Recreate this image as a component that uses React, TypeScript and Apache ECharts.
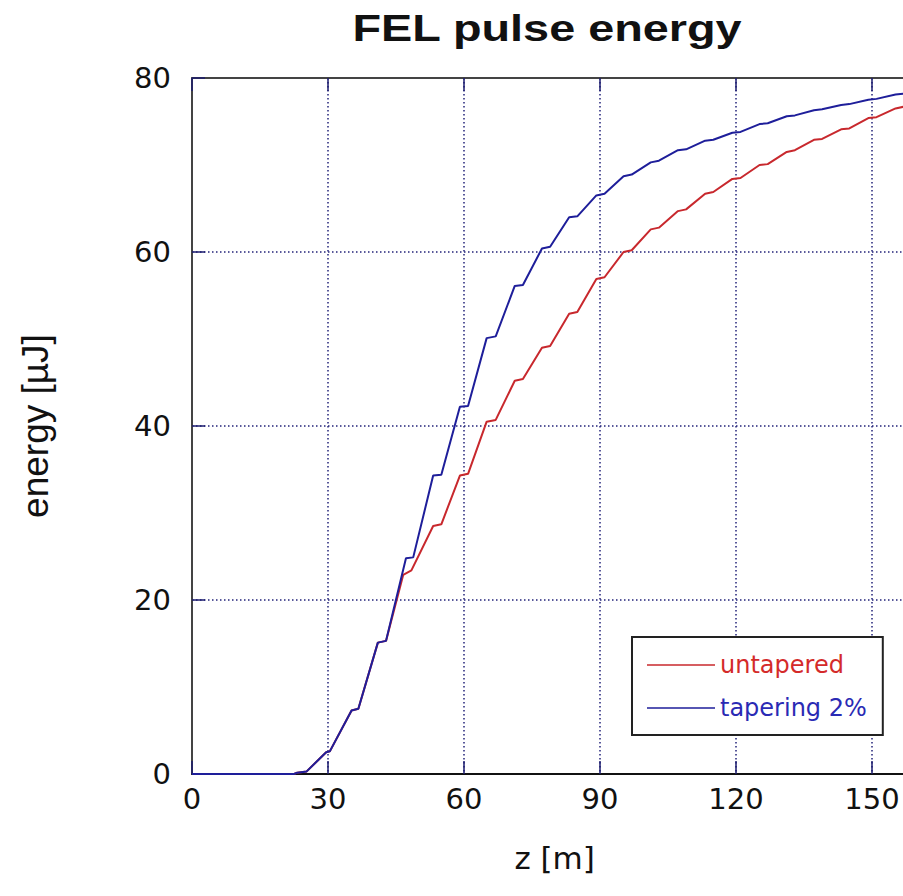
import React, { useEffect, useRef } from "react";
import * as echarts from "echarts";

// z [m] and energy [µJ] points (plateaus = drift sections)
const untaperedZ = [0, 22.5, 23.2, 25.3, 29.6, 30.4, 35.2, 36.7, 41, 42.8, 46.6, 48.4, 53.2, 55, 59.1, 60.9, 65, 67, 71.2, 73, 77.2, 79, 83.2, 85, 89.2, 91, 95.2, 97, 101.2, 103, 107.2, 109, 113.2, 115, 119.2, 121, 125.2, 127, 131.2, 133, 137.2, 139, 143.2, 145, 149.2, 151, 155.2, 157, 160];
const untaperedE = [0, 0, 0.15, 0.3, 2.5, 2.6, 7.3, 7.5, 15.1, 15.3, 22.9, 23.4, 28.5, 28.7, 34.3, 34.5, 40.5, 40.7, 45.2, 45.4, 49.0, 49.2, 52.9, 53.1, 56.9, 57.1, 60.0, 60.2, 62.6, 62.8, 64.7, 64.9, 66.7, 66.9, 68.4, 68.5, 70.0, 70.1, 71.5, 71.7, 72.9, 73.0, 74.1, 74.2, 75.4, 75.5, 76.5, 76.7, 77.1];

const taperedZ = [0, 22.5, 23.2, 25.3, 29.6, 30.4, 35.2, 36.7, 41, 42.8, 47.2, 48.8, 53.2, 55, 59.1, 60.9, 65, 67, 71.2, 73, 77.2, 79, 83.2, 85, 89.2, 91, 95.2, 97, 101.2, 103, 107.2, 109, 113.2, 115, 119.2, 121, 125.2, 127, 131.2, 133, 137.2, 139, 143.2, 145, 149.2, 151, 155.2, 157, 160];
const taperedE = [0, 0, 0.15, 0.3, 2.5, 2.6, 7.3, 7.5, 15.1, 15.3, 24.8, 24.9, 34.3, 34.4, 42.2, 42.3, 50.1, 50.3, 56.1, 56.2, 60.4, 60.6, 64.0, 64.1, 66.5, 66.7, 68.7, 68.9, 70.3, 70.5, 71.7, 71.8, 72.8, 72.9, 73.7, 73.8, 74.7, 74.8, 75.6, 75.7, 76.3, 76.4, 76.9, 77.0, 77.5, 77.6, 78.1, 78.2, 78.6];

const seriesNames = ["untapered", "tapering 2%"];
const xTicks = [0, 30, 60, 90, 120, 150];

const GRID_COLOR = "#23237a";
const TICK_COLOR = "#1c1c6e";

export default function App() {
  const ref = useRef<HTMLDivElement>(null);
  useEffect(() => {
    if (!ref.current) return;
    const chart = echarts.init(ref.current, undefined, { renderer: "svg" });
    const pts = (zs: number[], es: number[]) => zs.map((z, i) => [z, es[i]]);
    const xAxisBase = {
      type: "value" as const,
      min: 0,
      max: 160,
      interval: 30,
    };
    chart.setOption({
      animation: false,
      backgroundColor: "#ffffff",
      graphic: [
        {
          type: "text",
          x: 547,
          y: 10,
          scaleX: 1.3,
          originX: 0,
          style: {
            text: "FEL pulse energy",
            font: "bold 36px 'Liberation Sans', Arial, sans-serif",
            fill: "#111",
            align: "center",
            verticalAlign: "top",
          },
        },
      ],
      grid: {
        left: 192,
        top: 78,
        width: 725.3,
        bottom: 122,
        containLabel: false,
        outerBoundsMode: "none",
      },
      legend: {
        left: 632,
        top: 637,
        orient: "vertical",
        backgroundColor: "#ffffff",
        borderColor: "#222",
        borderWidth: 2,
        borderRadius: 0,
        padding: [14, 16, 13, 15],
        icon: "rect",
        itemWidth: 68,
        itemHeight: 1.6,
        itemGap: 15,
        textStyle: { fontFamily: "DejaVu Sans", fontSize: 24, lineHeight: 28 },
        data: [
          { name: seriesNames[0], textStyle: { color: "#d42a2a" } },
          { name: seriesNames[1], textStyle: { color: "#2a2ab4" } },
        ],
      },
      xAxis: [
        {
          ...xAxisBase,
          position: "bottom",
          name: "z [m]",
          nameLocation: "middle",
          nameGap: 68,
          nameTextStyle: { fontFamily: "DejaVu Sans", fontSize: 31, color: "#111" },
          axisLine: { show: true, lineStyle: { color: "#111", width: 2 } },
          axisTick: { show: true, inside: true, length: 13, lineStyle: { color: TICK_COLOR, width: 1.5 } },
          axisLabel: {
            margin: 10,
            fontFamily: "DejaVu Sans",
            fontSize: 29,
            color: "#111",
            showMaxLabel: false,
            formatter: (v: number) => (xTicks.includes(v) ? String(v) : ""),
          },
          splitLine: { show: true, lineStyle: { color: GRID_COLOR, width: 1.5, type: [1.5, 2.5] } },
        },
        {
          ...xAxisBase,
          position: "top",
          axisLine: { show: true, lineStyle: { color: "#444", width: 2 } },
          axisTick: { show: true, inside: true, length: 13, lineStyle: { color: TICK_COLOR, width: 1.5 } },
          axisLabel: { show: false },
          splitLine: { show: false },
        },
      ],
      yAxis: [
        {
          type: "value",
          min: 0,
          max: 80,
          interval: 20,
          name: "energy [µJ]",
          nameLocation: "middle",
          nameRotate: 90,
          nameGap: 138,
          nameTextStyle: { fontFamily: "Liberation Sans", fontSize: 37, color: "#111" },
          axisLine: { show: true, lineStyle: { color: "#444", width: 2 } },
          axisTick: { show: true, inside: true, length: 13, lineStyle: { color: TICK_COLOR, width: 1.5 } },
          axisLabel: {
            margin: 21,
            fontFamily: "DejaVu Sans",
            fontSize: 29,
            color: "#111",
            verticalAlign: "middle",
          },
          splitLine: { show: true, lineStyle: { color: GRID_COLOR, width: 1.5, type: [1.5, 2.5] } },
        },
      ],
      series: [
        {
          name: seriesNames[0],
          type: "line",
          xAxisIndex: 0,
          data: pts(untaperedZ, untaperedE),
          showSymbol: false,
          symbol: "none",
          lineStyle: { color: "#c8282d", width: 2 },
          itemStyle: { color: "#c8282d" },
          clip: true,
        },
        {
          name: seriesNames[1],
          type: "line",
          xAxisIndex: 0,
          data: pts(taperedZ, taperedE),
          showSymbol: false,
          symbol: "none",
          lineStyle: { color: "#1e1e9a", width: 2 },
          itemStyle: { color: "#1e1e9a" },
          clip: true,
        },
      ],
    });
    return () => chart.dispose();
  }, []);
  return (
    <div
      ref={ref}
      style={{ position: "fixed", left: 0, top: 0, width: 903, height: 896, background: "#fff" }}
    />
  );
}
